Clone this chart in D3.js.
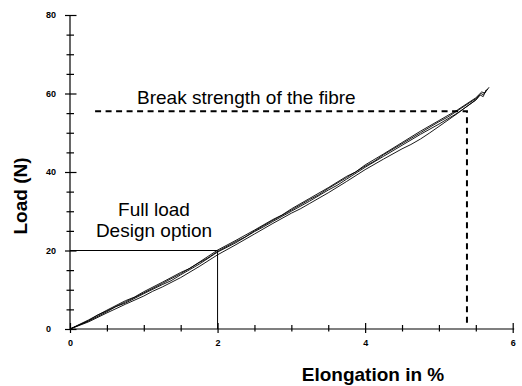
<!DOCTYPE html>
<html>
<head>
<meta charset="utf-8">
<script src="https://cdn.jsdelivr.net/npm/d3@7"></script>
<style>
  html, body { margin: 0; padding: 0; background: #fff; }
  svg { display: block; font-family: Arial, "Liberation Sans", sans-serif; }
</style>
</head>
<body>
<svg id="chart" width="522" height="386"></svg>
<script>
// Load–elongation test runs of the fibre: [elongation %, load N]
const run1 = [[0,0],[0.25,2.0],[0.5,4.4],[0.62,5.7],[0.75,6.6],[1.0,9.0],[1.25,11.3],[1.37,12.3],[1.5,13.8],[1.75,16.5],[2.0,19.6],[2.25,22.0],[2.5,24.8],[2.62,26.0],[2.75,27.4],[3.0,30.0],[3.25,32.6],[3.5,35.4],[3.62,36.6],[3.75,38.2],[4.0,41.2],[4.25,44.0],[4.5,46.8],[4.75,49.6],[5.0,52.2],[5.25,55.0],[5.5,58.3],[5.56,59.6],[5.6,59.2],[5.64,60.9]];
const run2 = [[0,0],[0.25,2.3],[0.5,4.8],[0.75,7.2],[0.87,8.1],[1.0,9.5],[1.25,11.9],[1.5,14.4],[1.62,15.4],[1.75,17.0],[2.0,20.1],[2.25,22.6],[2.5,25.2],[2.75,27.9],[2.87,29.0],[3.0,30.6],[3.25,33.3],[3.5,36.0],[3.75,38.9],[3.87,40.0],[4.0,41.8],[4.25,44.6],[4.5,47.5],[4.75,50.4],[5.0,53.1],[5.25,55.8],[5.5,58.9],[5.58,60.4],[5.62,60.1],[5.68,61.6]];
const run3 = [[0,0],[0.25,1.8],[0.5,4.1],[0.75,6.3],[1.0,8.4],[1.12,9.6],[1.25,10.7],[1.5,13.1],[1.75,15.9],[2.0,18.9],[2.25,21.5],[2.5,24.2],[2.75,26.9],[3.0,29.5],[3.12,30.6],[3.25,32.0],[3.5,34.7],[3.75,37.6],[4.0,40.6],[4.25,43.3],[4.5,45.9],[4.62,47.0],[4.75,48.4],[4.87,49.9],[5.0,51.6],[5.25,54.9],[5.5,58.4],[5.55,59.6]];
const run4 = [[0,0],[0.25,2.1],[0.37,3.5],[0.5,4.6],[0.75,6.9],[1.0,9.2],[1.25,11.6],[1.5,14.1],[1.75,16.9],[1.87,18.1],[2.0,19.8],[2.25,22.3],[2.37,23.4],[2.5,25.0],[2.75,27.7],[3.0,30.3],[3.25,33.0],[3.37,34.2],[3.5,35.8],[3.75,38.6],[4.0,41.5],[4.12,42.7],[4.25,44.4],[4.5,47.2],[4.75,50.0],[5.0,52.8],[5.12,54.0],[5.25,55.6],[5.5,58.7],[5.57,60.0],[5.6,59.7],[5.66,61.2]];
const runs = [run1, run2, run3, run4];

const xTicks = [0, 2, 4, 6];
const xMinor = [0.5, 1, 1.5, 2.5, 3, 3.5, 4.5, 5, 5.5];
const yTicks = [0, 20, 40, 60, 80];
const yMinor = [5, 10, 15, 25, 30, 35, 45, 50, 55, 65, 70, 75];

// Reference levels
const fullLoad = { elong: 2, load: 20 };
const breakStrength = { elong: 5.38, load: 55.5, from: 0.34 };

const svg = d3.select("#chart");
const x = d3.scaleLinear().domain([0, 6]).range([70, 512.7]);
const y = d3.scaleLinear().domain([0, 80]).range([329, 15]);

// Axes
const gx = svg.append("g").attr("transform", `translate(0,${y(0)})`);
gx.call(d3.axisBottom(x).tickValues(xTicks).tickSizeOuter(0).tickSize(4).tickFormat(d3.format("d")));
gx.select(".domain").attr("d", `M${x(0)},0H${x(6) + 1.5}`).attr("stroke", "#000").attr("stroke-width", 1.2);
gx.selectAll(".tick line").attr("y1", -6).attr("y2", 4).attr("stroke-width", 1.2);
gx.selectAll(".tick text").attr("y", 11).attr("font-size", 9).attr("font-weight", "bold").attr("font-family", null);
const gxm = svg.append("g").attr("transform", `translate(0,${y(0)})`);
gxm.call(d3.axisBottom(x).tickValues(xMinor).tickSize(3).tickFormat(""));
gxm.select(".domain").remove();
gxm.selectAll(".tick line").attr("y1", -4).attr("y2", 2.5).attr("stroke-width", 1.2);

const gy = svg.append("g").attr("transform", `translate(${x(0)},0)`);
gy.call(d3.axisLeft(y).tickValues(yTicks).tickSizeOuter(0).tickSize(5).tickFormat(d3.format("d")));
gy.select(".domain").attr("d", `M0,${y(80)}V${y(0)}`).attr("stroke", "#000").attr("stroke-width", 1.2);
gy.selectAll(".tick line").attr("x1", -5).attr("x2", 6.5).attr("stroke-width", 1.2);
gy.selectAll(".tick text").attr("x", -24).attr("text-anchor", "start")
  .attr("font-size", 9).attr("font-weight", "bold").attr("font-family", null);
const gym = svg.append("g").attr("transform", `translate(${x(0)},0)`);
gym.call(d3.axisLeft(y).tickValues(yMinor).tickSize(3).tickFormat(""));
gym.select(".domain").remove();
gym.selectAll(".tick line").attr("x1", -3.5).attr("x2", 4).attr("stroke-width", 1.2);

// Full load design option guide
svg.append("path")
  .attr("d", `M${x(0)},${y(fullLoad.load)}H${x(fullLoad.elong)}V${y(0)}`)
  .attr("fill", "none").attr("stroke", "#000").attr("stroke-width", 1);

// Break strength guide
svg.append("path")
  .attr("d", `M${x(breakStrength.from)},${y(breakStrength.load)}H${x(breakStrength.elong)}V${y(0) - 5}`)
  .attr("fill", "none").attr("stroke", "#000").attr("stroke-width", 2)
  .attr("stroke-dasharray", "6,4.5");

// Measured curves
const line = d3.line().x(d => x(d[0])).y(d => y(d[1]));
svg.append("g").selectAll("path").data(runs).join("path")
  .attr("d", line)
  .attr("fill", "none").attr("stroke", "#000").attr("stroke-width", 0.9);

// Annotations
svg.append("text").attr("x", 137).attr("y", 104).attr("font-size", 19)
  .text("Break strength of the fibre");
svg.append("text").attr("x", 154).attr("y", 216).attr("font-size", 19)
  .attr("text-anchor", "middle").text("Full load");
svg.append("text").attr("x", 154).attr("y", 237).attr("font-size", 19)
  .attr("text-anchor", "middle").text("Design option");

// Axis titles
svg.append("text").attr("x", 373).attr("y", 381).attr("font-size", 19)
  .attr("font-weight", "bold").attr("text-anchor", "middle").text("Elongation in %");
svg.append("text").attr("transform", "translate(26.5,196) rotate(-90)").attr("font-size", 19)
  .attr("font-weight", "bold").attr("text-anchor", "middle").text("Load (N)");
</script>
</body>
</html>
